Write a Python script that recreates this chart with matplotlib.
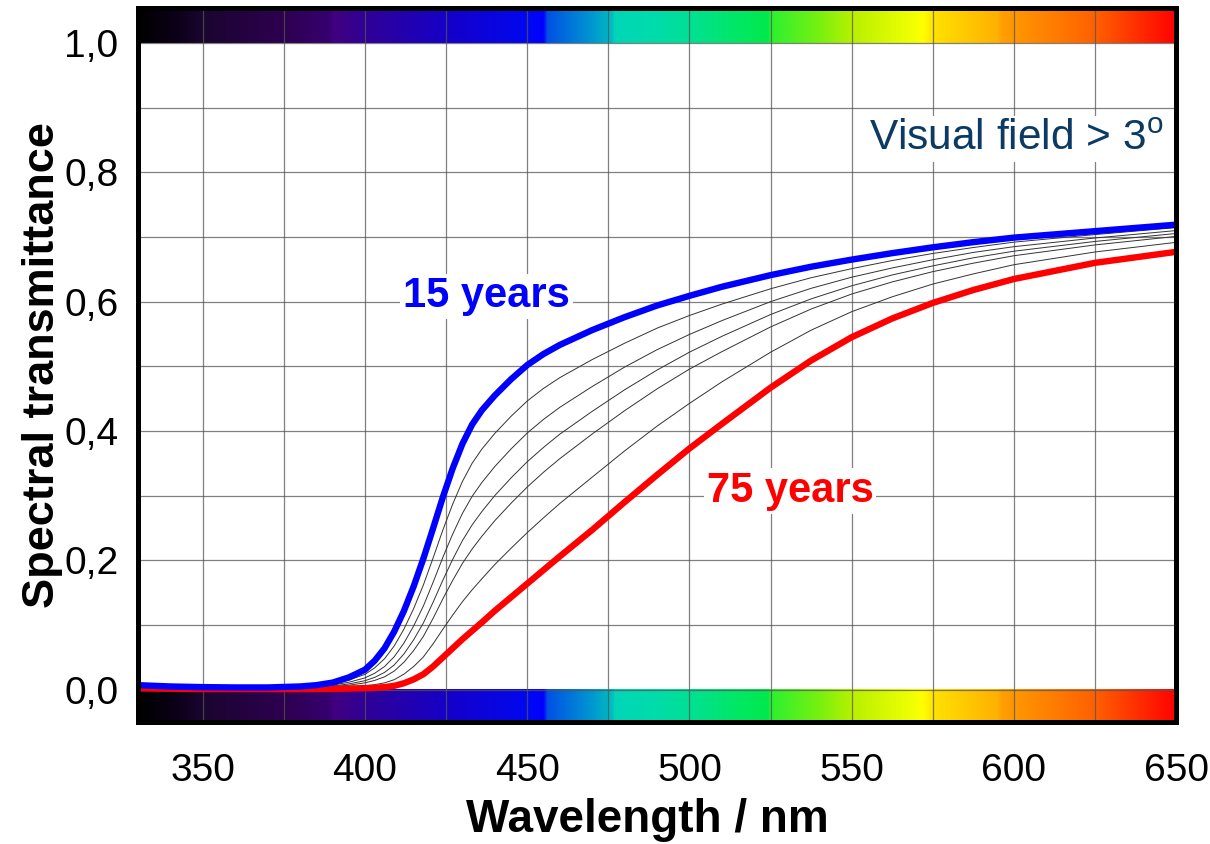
import numpy as np
import matplotlib
matplotlib.use("Agg")
import matplotlib.pyplot as plt
from matplotlib.colors import LinearSegmentedColormap, to_rgb

plt.rcParams['font.family'] = ['Liberation Sans', 'DejaVu Sans']

# Wavelength samples (nm)
wavelength = [330, 340, 350, 360, 370, 380, 385, 390, 395, 400, 403, 406, 409,
              412, 415, 418, 421, 424, 427, 430, 433, 436, 440, 445, 450, 455,
              460, 470, 480, 490, 500, 510, 525, 537.5, 550, 562.5, 575, 587.5,
              600, 625, 650]

# Spectral transmittance of the ocular media by age
t_15 = [0.007, 0.005, 0.004, 0.0035, 0.0035, 0.005, 0.007, 0.011, 0.019, 0.031,
        0.045, 0.064, 0.090, 0.122, 0.160, 0.203, 0.250, 0.298, 0.342, 0.380,
        0.410, 0.432, 0.455, 0.480, 0.502, 0.519, 0.533, 0.556, 0.576, 0.594,
        0.609, 0.623, 0.641, 0.654, 0.665, 0.675, 0.684, 0.692, 0.699, 0.709,
        0.719]
t_25 = [0.0061, 0.0044, 0.0035, 0.0031, 0.0031, 0.0042, 0.0058, 0.0089, 0.0147,
        0.0238, 0.0339, 0.0478, 0.0677, 0.0938, 0.1256, 0.1622, 0.2040, 0.2471,
        0.2868, 0.3218, 0.3501, 0.3720, 0.3963, 0.4227, 0.4464, 0.4658, 0.4824,
        0.5104, 0.5357, 0.5590, 0.5786, 0.5962, 0.6199, 0.6370, 0.6510, 0.6636,
        0.6745, 0.6837, 0.6920, 0.7037, 0.7145]
t_35 = [0.0054, 0.0039, 0.0030, 0.0027, 0.0027, 0.0036, 0.0048, 0.0071, 0.0115,
        0.0183, 0.0255, 0.0358, 0.0510, 0.0722, 0.0987, 0.1296, 0.1664, 0.2048,
        0.2405, 0.2725, 0.2989, 0.3203, 0.3451, 0.3722, 0.3969, 0.4179, 0.4365,
        0.4687, 0.4988, 0.5257, 0.5493, 0.5707, 0.6000, 0.6206, 0.6378, 0.6521,
        0.6648, 0.6761, 0.6850, 0.6984, 0.7099]
t_45 = [0.0047, 0.0034, 0.0026, 0.0024, 0.0024, 0.0030, 0.0040, 0.0057, 0.0089,
        0.0140, 0.0191, 0.0267, 0.0383, 0.0554, 0.0773, 0.1034, 0.1355, 0.1695,
        0.2014, 0.2304, 0.2548, 0.2754, 0.3002, 0.3274, 0.3525, 0.3746, 0.3950,
        0.4303, 0.4637, 0.4942, 0.5219, 0.5464, 0.5801, 0.6043, 0.6245, 0.6413,
        0.6553, 0.6678, 0.6780, 0.6931, 0.7054]
t_55 = [0.0041, 0.0030, 0.0022, 0.0021, 0.0021, 0.0025, 0.0033, 0.0046, 0.0069,
        0.0107, 0.0144, 0.0199, 0.0288, 0.0426, 0.0607, 0.0826, 0.1106, 0.1406,
        0.1689, 0.1951, 0.2175, 0.2372, 0.2614, 0.2883, 0.3134, 0.3362, 0.3571,
        0.3953, 0.4314, 0.4651, 0.4957, 0.5227, 0.5609, 0.5886, 0.6118, 0.6305,
        0.6464, 0.6595, 0.6710, 0.6877, 0.7009]
t_65 = [0.0031, 0.0023, 0.0016, 0.0016, 0.0016, 0.0018, 0.0022, 0.0029, 0.0040,
        0.0060, 0.0078, 0.0106, 0.0155, 0.0241, 0.0359, 0.0508, 0.0711, 0.0936,
        0.1153, 0.1360, 0.1544, 0.1714, 0.1936, 0.2187, 0.2429, 0.2657, 0.2878,
        0.3286, 0.3692, 0.4075, 0.4427, 0.4760, 0.5218, 0.5559, 0.5845, 0.6075,
        0.6272, 0.6429, 0.6571, 0.6768, 0.6917]
t_75 = [0.002, 0.0015, 0.001, 0.001, 0.001, 0.001, 0.0012, 0.0014, 0.0018,
        0.0025, 0.003, 0.004, 0.006, 0.010, 0.016, 0.024, 0.036, 0.050,
        0.064, 0.078, 0.091, 0.104, 0.122, 0.143, 0.164, 0.185, 0.206, 0.247,
        0.290, 0.332, 0.373, 0.411, 0.467, 0.509, 0.545, 0.574, 0.598, 0.618,
        0.635, 0.660, 0.677]

# Colour stops of the spectrum strip (nm, colour)
spectrum_nm = [330, 340, 350, 375, 389, 390, 400, 425, 450, 455, 456, 470, 476,
               477, 490, 500, 515, 524, 525, 540, 550, 568, 572, 575, 595, 596,
               625, 650]
spectrum_col = ['#000000', '#0a0014', '#1a0530', '#2e0050', '#360070', '#42007e',
                '#300096', '#1600c8', '#0008f0', '#0000ff', '#0050e4', '#0098d0',
                '#00bcc0', '#00d6b8', '#00dcaa', '#00e094', '#00e864', '#00e84c',
                '#2cf030', '#78f010', '#b8f000', '#eeff00', '#ffff00', '#ffe200',
                '#ffb000', '#ffa000', '#ff6000', '#ff0000']

fig = plt.figure(figsize=(12.10, 8.44), dpi=100)
ax = fig.add_axes([0.114, 0.1445, 0.858, 0.846])

x_min, x_max = 330, 650
y_min, y_max = -0.05, 1.054

# Spectrum strips above 1.0 and below 0.0
pos = [(v - x_min) / (x_max - x_min) for v in spectrum_nm]
cmap = LinearSegmentedColormap.from_list(
    'spectrum', list(zip(pos, [to_rgb(c) for c in spectrum_col])), N=1024)
grad = np.linspace(0, 1, 1024)[None, :]
ax.imshow(grad, cmap=cmap, aspect='auto', extent=(x_min, x_max, 1.0, y_max),
          zorder=1, interpolation='bilinear')
ax.imshow(grad, cmap=cmap, aspect='auto', extent=(x_min, x_max, y_min, 0.0),
          zorder=1, interpolation='bilinear')

# Grid
for gx in np.arange(350, 650, 25):
    ax.axvline(gx, color='#555555', lw=0.9, alpha=0.75, zorder=1.5)
for gy in np.arange(0.0, 1.01, 0.1):
    ax.axhline(gy, color='#555555', lw=0.9, alpha=0.75, zorder=1.5)

# Intermediate ages as thin lines
for series in (t_25, t_35, t_45, t_55, t_65):
    ax.plot(wavelength, series, color='#333333', lw=0.7, zorder=2.5)

ax.plot(wavelength, t_75, color='#ff0000', lw=4.6, zorder=3,
        solid_capstyle='butt', solid_joinstyle='round')
ax.plot(wavelength, t_15, color='#0000ff', lw=4.6, zorder=3.1,
        solid_capstyle='butt', solid_joinstyle='round')

ax.set_xlim(x_min, x_max)
ax.set_ylim(y_min, y_max)

x_ticks = [350, 400, 450, 500, 550, 600, 650]
y_ticks = [0.0, 0.2, 0.4, 0.6, 0.8, 1.0]
y_labels = ['0,0', '0,2', '0,4', '0,6', '0,8', '1,0']
ax.set_xticks(x_ticks)
ax.set_xticklabels([str(v) for v in x_ticks])
ax.set_yticks(y_ticks)
ax.set_yticklabels(y_labels)
ax.tick_params(axis='both', length=0, labelsize=28)
ax.tick_params(axis='x', pad=22)
ax.tick_params(axis='y', pad=14)

for sp in ax.spines.values():
    sp.set_linewidth(3.6)
    sp.set_color('black')
    sp.set_zorder(5)

ax.set_xlabel('Wavelength / nm', fontsize=33, fontweight='bold')
ax.xaxis.set_label_coords(0.491, -0.107)
ax.set_ylabel('Spectral transmittance', fontsize=32.5, fontweight='bold',
              labelpad=1)

box = dict(facecolor='white', edgecolor='none', pad=2)
ax.text(411.8, 0.608, '15 years', color='#0000ff', fontsize=30,
        fontweight='bold', va='center', ha='left', bbox=box, zorder=4)
ax.text(505.3, 0.307, '75 years', color='#ff0000', fontsize=30,
        fontweight='bold', va='center', ha='left', bbox=box, zorder=4)
ax.text(646.0, 0.852, 'Visual field > 3$^{\\mathregular{o}}$', color='#0b3a63',
        fontsize=30.5, va='center', ha='right', bbox=box, zorder=4)

fig.savefig('out.png', dpi=100)
